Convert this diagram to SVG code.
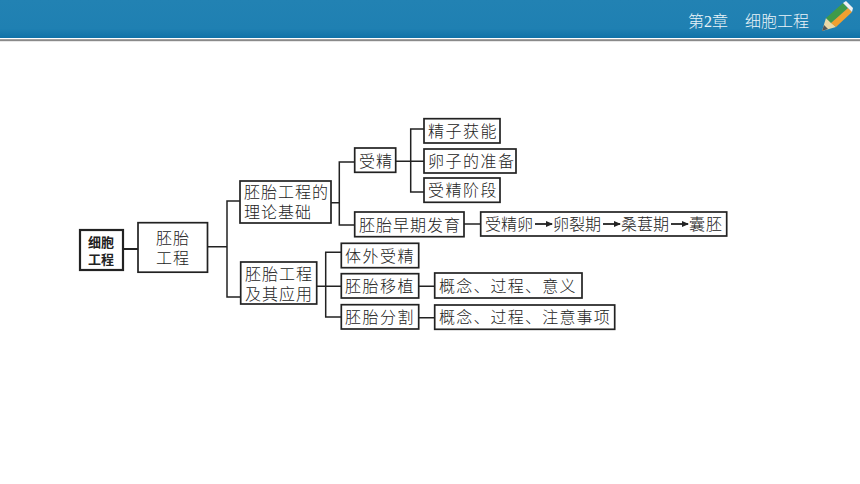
<svg xmlns="http://www.w3.org/2000/svg" width="860" height="484" viewBox="0 0 860 484">
<style>
text{font-family:"Noto Sans CJK SC","Liberation Serif",sans-serif;fill:#222;font-size:16px;font-weight:300}
.b{fill:#fff;stroke:#222;stroke-width:1.7}
.c{fill:none;stroke:#222;stroke-width:1.5}
.a{fill:none;stroke:#222;stroke-width:1.8;marker-end:url(#ar)}
.h{fill:#e9f3f8;font-size:16px}
</style>
<defs>
<linearGradient id="hd" x1="0" y1="0" x2="0" y2="1"><stop offset="0" stop-color="#2282b3"/><stop offset=".75" stop-color="#1f80b2"/><stop offset="1" stop-color="#0f72a8"/></linearGradient>
<marker id="ar" markerUnits="userSpaceOnUse" markerWidth="8" markerHeight="8" refX="6" refY="4" orient="auto"><path d="M0 1L7 4L0 7z" fill="#222"/></marker>
</defs>
<rect width="860" height="484" fill="#fff"/>
<g id="header">
<rect width="860" height="38" fill="url(#hd)"/>
<rect y="38" width="860" height="1.200" fill="#fff"/>
<rect y="39.200" width="860" height="2" fill="#8a8a8a"/>
<text class="h" x="688" y="27">第<tspan font-family="Liberation Serif">2</tspan>章</text>
<text class="h" x="745" y="27">细胞工程</text>
<g id="pencil">
<polygon points="822,31 826,18 836,27" fill="#e9d8a8"/>
<polygon points="826,18 843,3 848,8 831,23" fill="#3f9a4a"/>
<polygon points="831,23 848,8 852,12 836,27" fill="#f0a030"/>
<polygon points="843,3 846,1 853,8 852,12" fill="#f1f1f1"/>
<polygon points="822,31 824,25 828,29" fill="#555"/>
</g>
</g>
<g id="connectors">
<path class="c" style="stroke-width:2" d="M123 249H138"/>
<path class="c" d="M207 246.700H227M240 201H227V297H241"/>
<path class="c" d="M331 202.700H339.300M355 162H339.300V225H355"/>
<path class="c" d="M396 161.300H424M424 129H410.700V192H424"/>
<path class="c" d="M464 224H481"/>
<path class="c" d="M317 286.300H341M341 252.300H325.700V317H341"/>
<path class="c" d="M419 286.300H435M419 317.700H435"/>
</g>
<g id="n1"><rect class="b" style="stroke-width:2.2" x="80" y="230" width="43" height="40"/><text x="88" y="247" style="font-size:13px;font-weight:700">细胞</text><text x="88" y="264" style="font-size:13px;font-weight:700">工程</text></g>
<g id="n2"><rect class="b" x="138" y="222.700" width="69.500" height="49.500"/><text x="156" y="244" letter-spacing="1">胚胎</text><text x="156" y="264" letter-spacing="1">工程</text></g>
<g id="n3"><rect class="b" x="240" y="181" width="91" height="42"/><text x="244" y="198" letter-spacing="1">胚胎工程的</text><text x="244" y="218" letter-spacing="1">理论基础</text></g>
<g id="n4"><rect class="b" x="240.700" y="262" width="76" height="42"/><text x="245" y="280" letter-spacing="1">胚胎工程</text><text x="245" y="300" letter-spacing="1">及其应用</text></g>
<g id="n5"><rect class="b" x="354.700" y="148" width="41" height="24.300"/><text x="359" y="167" letter-spacing="1">受精</text></g>
<g id="n6"><rect class="b" x="354.700" y="212" width="109.300" height="24.700"/><text x="359" y="231" letter-spacing="1">胚胎早期发育</text></g>
<g id="n7"><rect class="b" x="424" y="118.700" width="76" height="24.300"/><text x="428" y="137" letter-spacing="1.500">精子获能</text></g>
<g id="n8"><rect class="b" x="424" y="149" width="92" height="24"/><text x="428" y="167" letter-spacing="1.500">卵子的准备</text></g>
<g id="n9"><rect class="b" x="424" y="178" width="76" height="24.300"/><text x="428" y="196" letter-spacing="1.500">受精阶段</text></g>
<g id="n10"><rect class="b" x="480.700" y="212" width="246" height="24"/><text x="485" y="230">受精卵</text><text x="553" y="230">卵裂期</text><text x="621" y="230">桑葚期</text><text x="689" y="230" letter-spacing="1">囊胚</text>
<path class="a" d="M535 224H552"/><path class="a" d="M603 224H620"/><path class="a" d="M671 224H688"/></g>
<g id="n11"><rect class="b" x="341.300" y="243.300" width="77.400" height="24.400"/><text x="345" y="261.500" letter-spacing="1.500">体外受精</text></g>
<g id="n12"><rect class="b" x="341.300" y="273.700" width="77.400" height="24.300"/><text x="345" y="292" letter-spacing="1.500">胚胎移植</text></g>
<g id="n13"><rect class="b" x="341.300" y="304.700" width="77.400" height="24.300"/><text x="345" y="323" letter-spacing="1.500">胚胎分割</text></g>
<g id="n14"><rect class="b" x="434.700" y="273" width="147.300" height="25"/><text x="439" y="292" letter-spacing="1.200">概念、过程、意义</text></g>
<g id="n15"><rect class="b" x="434.700" y="305" width="180" height="24.300"/><text x="439" y="323" letter-spacing="1.200">概念、过程、注意事项</text></g>
</svg>
